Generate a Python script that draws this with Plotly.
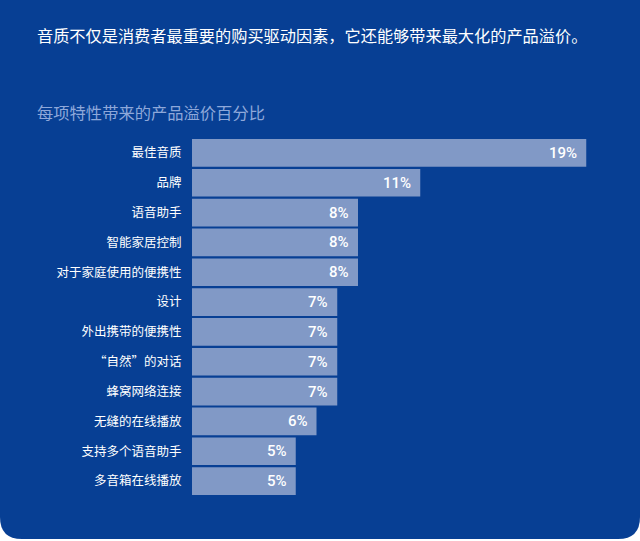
import plotly.graph_objects as go

# data
features = ['最佳音质', '品牌', '语音助手', '智能家居控制', '对于家庭使用的便携性', '设计',
            '外出携带的便携性', '“自然”的对话', '蜂窝网络连接', '无缝的在线播放',
            '支持多个语音助手', '多音箱在线播放']
premium = [19, 11, 8, 8, 8, 7, 7, 7, 7, 6, 5, 5]
value_labels = [str(v) + '%' for v in premium]

headline = '音质不仅是消费者最重要的购买驱动因素，它还能够带来最大化的产品溢价。'
subtitle = '每项特性带来的产品溢价百分比'

W, H = 640, 541
L, R, T, B = 192, 33, 138, 45

PANEL = '#073f94'
BAR = '#8199c6'
SUB = '#8ea8da'
CJK = 'Noto Sans CJK SC'

pw = W - L - R
ph = H - T - B


def px(x):
    # figure pixel -> paper x
    return (x - L) / pw


def py(y):
    # figure pixel -> paper y
    return (H - B - y) / ph


fig = go.Figure()

fig.add_trace(go.Bar(
    x=premium,
    y=features,
    orientation='h',
    marker=dict(color=BAR, line=dict(width=0)),
    hoverinfo='skip',
))

# value labels at the end of each bar
for f, v, lab in zip(features, premium, value_labels):
    fig.add_annotation(
        x=v, y=f, xref='x', yref='y',
        text=lab, showarrow=False,
        xanchor='right', xshift=-7,
        font=dict(family='Roboto', size=15, color='white', weight=500),
    )

# panel with rounded bottom corners
r = 22
bottom = 539
path = (
    f'M {px(0)} {py(0)} L {px(W)} {py(0)} '
    f'L {px(W)} {py(bottom - r)} Q {px(W)} {py(bottom)} {px(W - r)} {py(bottom)} '
    f'L {px(r)} {py(bottom)} Q {px(0)} {py(bottom)} {px(0)} {py(bottom - r)} Z'
)
fig.add_shape(type='path', path=path, xref='paper', yref='paper',
              fillcolor=PANEL, line=dict(width=0), layer='below')

fig.add_annotation(
    x=px(35), y=py(112), xref='paper', yref='paper',
    text=subtitle, showarrow=False, xanchor='left', yanchor='middle',
    font=dict(family=CJK, size=16.3, color=SUB),
)

fig.update_layout(
    width=W, height=H,
    margin=dict(l=L, r=R, t=T, b=B),
    paper_bgcolor='white',
    plot_bgcolor='rgba(0,0,0,0)',
    bargap=0.07,
    showlegend=False,
    title=dict(
        text=headline, xref='container', yref='container',
        x=37 / W, y=1 - 36 / H, xanchor='left', yanchor='middle',
        font=dict(family=CJK, size=16.2, color='white'),
    ),
    xaxis=dict(range=[0, 20], visible=False, fixedrange=True),
    yaxis=dict(
        categoryorder='array', categoryarray=features, autorange='reversed',
        showgrid=False, zeroline=False, showline=False,
        ticks='outside', ticklen=7, tickcolor='rgba(0,0,0,0)',
        tickfont=dict(family=CJK, size=12.5, color='white'),
    ),
)

# drop the browser's default page margin so the panel reaches the edges
fig.write_html('out.html', config={'displayModeBar': False},
               post_script="document.body.style.margin = '0';")
